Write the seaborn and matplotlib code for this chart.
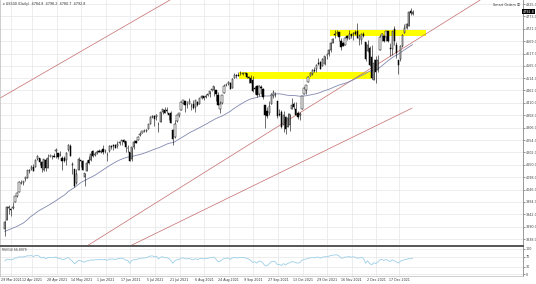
import numpy as np
import pandas as pd
import matplotlib
matplotlib.use("Agg")
import matplotlib.pyplot as plt
import seaborn as sns
from matplotlib.patches import Rectangle
from matplotlib.transforms import blended_transform_factory

sns.set_theme(style="white")
plt.rcParams["font.family"] = ["DejaVu Sans", "Noto Sans CJK SC"]

# ---------------- data ----------------
# closes before the visible window (only used for the 50-day moving average / RSI warm-up)
pre_close = [3799, 3801, 3810, 3795, 3768, 3798, 3852, 3853, 3841, 3855, 3849, 3751, 3788, 3714,
             3774, 3826, 3831, 3872, 3887, 3915, 3911, 3910, 3916, 3934, 3933, 3931, 3914, 3906,
             3876, 3881, 3925, 3829, 3811, 3901, 3870, 3820, 3768, 3842, 3821, 3875, 3898, 3939,
             3943, 3969, 3962, 3974, 3915, 3913, 3940, 3911, 3889]

open_ = [3879, 3917, 3970, 3963, 3968,
         3993, 4020, 4034, 4075, 4074, 4090, 4096, 4124, 4131, 4141, 4140, 4175, 4179, 4160, 4129, 4170, 4138, 4185, 4188, 4185, 4206, 4198,
         4191, 4180, 4177, 4169, 4211, 4229, 4151, 4131, 4075, 4130, 4170, 4165, 4098, 4122, 4169, 4170, 4206, 4192, 4201, 4210, 4204,
         4216, 4207, 4192, 4207, 4229, 4234, 4233, 4228, 4243, 4248, 4255, 4249, 4220, 4204, 4174, 4225, 4249, 4256, 4274, 4285, 4293, 4290,
         4301, 4322, 4350, 4356, 4351, 4321, 4329, 4372, 4381, 4381, 4369, 4367, 4297, 4266, 4332, 4361, 4381, 4409, 4416, 4402, 4404, 4396,
         4407, 4392, 4415, 4405, 4429, 4437, 4436, 4442, 4447, 4464, 4462, 4462, 4441, 4383, 4411, 4450, 4485, 4490, 4494, 4474, 4514, 4529,
         4529, 4535, 4532, 4535, 4536, 4518, 4514, 4506, 4474, 4479, 4447, 4477, 4470, 4403, 4375, 4368, 4406, 4439, 4443, 4419, 4362, 4371,
         4317, 4349, 4310, 4319, 4384, 4406, 4385, 4368, 4359, 4386, 4447, 4463, 4497, 4524, 4532, 4546, 4553, 4579, 4580, 4563, 4573,
         4610, 4614, 4630, 4662, 4699, 4702, 4707, 4670, 4660, 4655, 4690, 4680, 4701, 4700, 4708, 4712, 4679, 4675, 4701, 4664, 4628, 4640,
         4602, 4504, 4589, 4548, 4632, 4690, 4691, 4687, 4710, 4642, 4637, 4719, 4653, 4588, 4594, 4650, 4704, 4726, 4733, 4795, 4784.8]
high = [3919, 3978, 3981, 3969, 3994,
        4020, 4034, 4083, 4086, 4083, 4098, 4129, 4131, 4148, 4152, 4173, 4191, 4180, 4164, 4175, 4179, 4194, 4194, 4193, 4201, 4219, 4199,
        4209, 4187, 4188, 4202, 4238, 4236, 4162, 4134, 4131, 4183, 4172, 4170, 4117, 4172, 4188, 4209, 4213, 4203, 4213, 4218, 4212,
        4234, 4217, 4204, 4234, 4232, 4237, 4237, 4249, 4249, 4255, 4258, 4252, 4233, 4205, 4226, 4255, 4256, 4271, 4287, 4292, 4300, 4302,
        4321, 4355, 4358, 4357, 4362, 4331, 4372, 4386, 4393, 4393, 4369, 4376, 4301, 4336, 4359, 4369, 4415, 4422, 4416, 4416, 4430, 4408,
        4422, 4424, 4416, 4430, 4441, 4439, 4446, 4449, 4461, 4468, 4480, 4462, 4454, 4419, 4444, 4489, 4492, 4502, 4496, 4513, 4537, 4531,
        4539, 4545, 4541, 4540, 4536, 4522, 4529, 4521, 4479, 4485, 4486, 4485, 4471, 4403, 4394, 4417, 4453, 4463, 4457, 4419, 4385, 4382,
        4376, 4355, 4369, 4365, 4429, 4413, 4415, 4374, 4373, 4440, 4475, 4487, 4523, 4540, 4551, 4560, 4572, 4599, 4585, 4597, 4608,
        4620, 4636, 4664, 4684, 4718, 4714, 4708, 4684, 4664, 4688, 4697, 4714, 4701, 4708, 4718, 4744, 4699, 4702, 4706, 4664, 4673, 4647,
        4652, 4595, 4608, 4612, 4694, 4705, 4696, 4713, 4710, 4660, 4712, 4731, 4666, 4588, 4651, 4698, 4740, 4746, 4791, 4808, 4798.2]
low = [3853, 3917, 3943, 3935, 3965,
       3992, 4016, 4034, 4068, 4064, 4082, 4095, 4114, 4127, 4123, 4139, 4170, 4150, 4119, 4126, 4123, 4138, 4182, 4176, 4181, 4177, 4174,
       4188, 4128, 4161, 4148, 4208, 4188, 4111, 4057, 4069, 4130, 4142, 4127, 4062, 4122, 4152, 4168, 4182, 4189, 4197, 4203, 4200,
       4197, 4199, 4167, 4204, 4216, 4211, 4219, 4221, 4233, 4235, 4242, 4203, 4202, 4165, 4168, 4217, 4241, 4256, 4272, 4282, 4287, 4287,
       4300, 4322, 4348, 4315, 4340, 4289, 4329, 4365, 4367, 4366, 4340, 4325, 4233, 4262, 4328, 4351, 4381, 4405, 4372, 4390, 4404, 4380,
       4385, 4373, 4398, 4405, 4425, 4424, 4431, 4437, 4435, 4461, 4438, 4418, 4400, 4368, 4406, 4450, 4482, 4485, 4469, 4471, 4513, 4514,
       4522, 4527, 4529, 4530, 4513, 4494, 4493, 4457, 4447, 4436, 4439, 4448, 4427, 4305, 4347, 4359, 4406, 4430, 4436, 4346, 4354, 4306,
       4288, 4279, 4310, 4290, 4384, 4386, 4360, 4342, 4340, 4386, 4447, 4447, 4497, 4524, 4526, 4538, 4538, 4569, 4551, 4563, 4569,
       4596, 4605, 4624, 4662, 4681, 4694, 4670, 4630, 4649, 4651, 4673, 4680, 4684, 4672, 4693, 4681, 4652, 4659, 4688, 4585, 4625, 4566,
       4510, 4504, 4495, 4541, 4632, 4670, 4665, 4670, 4667, 4606, 4612, 4651, 4600, 4531, 4584, 4645, 4703, 4722, 4733, 4780, 4780.7]
close = [3910, 3974, 3971, 3959, 3973,
         4020, 4030, 4078, 4074, 4080, 4097, 4129, 4128, 4142, 4125, 4170, 4185, 4163, 4135, 4173, 4135, 4180, 4188, 4187, 4184, 4211, 4181,
         4192, 4165, 4168, 4201, 4233, 4189, 4153, 4063, 4113, 4174, 4164, 4128, 4116, 4159, 4156, 4197, 4188, 4196, 4201, 4204, 4208,
         4202, 4208, 4192, 4230, 4226, 4227, 4220, 4239, 4247, 4255, 4247, 4224, 4222, 4166, 4224, 4246, 4242, 4267, 4281, 4291, 4291, 4298,
         4320, 4352, 4355, 4344, 4358, 4320, 4370, 4385, 4369, 4374, 4360, 4327, 4258, 4323, 4359, 4368, 4412, 4422, 4402, 4400, 4419, 4395,
         4387, 4423, 4402, 4429, 4437, 4432, 4436, 4447, 4460, 4468, 4479, 4449, 4400, 4406, 4442, 4480, 4486, 4496, 4470, 4509, 4529, 4523,
         4524, 4537, 4535, 4536, 4520, 4514, 4493, 4458, 4469, 4443, 4480, 4474, 4433, 4358, 4354, 4396, 4449, 4455, 4443, 4353, 4360, 4308,
         4357, 4300, 4345, 4363, 4399, 4391, 4361, 4350, 4364, 4438, 4471, 4487, 4520, 4537, 4549, 4545, 4567, 4575, 4552, 4596, 4605,
         4613, 4631, 4660, 4680, 4697, 4702, 4685, 4646, 4650, 4683, 4683, 4701, 4689, 4704, 4698, 4682, 4690, 4701, 4690, 4595, 4655, 4567,
         4513, 4577, 4538, 4592, 4686, 4701, 4668, 4712, 4669, 4635, 4710, 4669, 4621, 4568, 4649, 4697, 4726, 4742, 4791, 4786, 4792.8]

date_labels = ["29 Mar 2021", "12 Apr 2021", "28 Apr 2021", "14 May 2021", "1 Jun 2021", "17 Jun 2021",
               "5 Jul 2021", "21 Jul 2021", "6 Aug 2021", "24 Aug 2021", "9 Sep 2021", "27 Sep 2021",
               "13 Oct 2021", "29 Oct 2021", "16 Nov 2021", "2 Dec 2021", "17 Dec 2021"]
price_ticks = [4825.0, 4773.0, 4721.0, 4669.0, 4617.0, 4565.0, 4514.0, 4462.0, 4410.0, 4358.0,
               4306.0, 4254.0, 4202.0, 4150.0, 4098.0, 4046.0, 3994.0, 3942.0, 3890.0, 3838.0]
rsi_ticks = [0, 30, 70, 100]
last_price = 4792.8

# support/resistance zones: (start date, end date, low, high)
zone_start = ["2021-09-02", "2021-11-03"]
zone_end = ["2021-12-01", "2022-01-07"]
zone_low = [4510, 4692]
zone_high = [4540, 4717]

# trend lines: two anchor points each (bar offset from first bar, price)
line_x0 = [-2.3, 40.1, 61.1]
line_y0 = [4430, 3809, 3809]
line_x1 = [80.6, 231.9, 198.7]
line_y1 = [4842, 4842, 4388]

title_text = "\u25BE US500 (Daily)  4784.8  4798.2  4780.7  4792.8"
rsi_text = "RSI(14) 66.8979"

# ---------------- derived ----------------
dates = list(pd.bdate_range("2021-03-25", "2021-12-29"))
o = np.array(open_, float); h = np.array(high, float)
l = np.array(low, float); c = np.array(close, float)
n = len(c)
x = np.arange(n)

allc = pd.Series(list(pre_close) + list(close), dtype=float)
ma = allc.rolling(50).mean().to_numpy()[len(pre_close):]
d = allc.diff()
gain = d.clip(lower=0).ewm(alpha=1 / 14, adjust=False).mean()
loss = (-d.clip(upper=0)).ewm(alpha=1 / 14, adjust=False).mean()
rsi = (100 - 100 / (1 + gain / loss)).to_numpy()[len(pre_close):]

def idx_of(s):
    t = pd.Timestamp(s)
    for i, dd in enumerate(dates):
        if dd >= t:
            return i
    last = dates[-1]
    extra = len(pd.bdate_range(last, t)) - 1
    return len(dates) - 1 + extra

# ---------------- figure ----------------
W, H = 536, 284
fig = plt.figure(figsize=(W / 100, H / 100), dpi=100)
fig.patch.set_facecolor("white")

def rect(x0, y0, x1, y1):
    return [x0 / W, 1 - y1 / H, (x1 - x0) / W, (y1 - y0) / H]

ax = fig.add_axes(rect(0, 0, 523, 246))
axr = fig.add_axes(rect(0, 247, 523, 276), sharex=ax)

FS = 2.4
grid_c = "#e6e6e6"

# zones
for s, e, lo, hi in zip(zone_start, zone_end, zone_low, zone_high):
    i0, i1 = idx_of(s), idx_of(e)
    ax.add_patch(Rectangle((i0 - 0.5, lo), i1 - i0, hi - lo, facecolor="#ffff00",
                           edgecolor="none", zorder=2))

# trend lines
for xa, ya, xb, yb in zip(line_x0, line_y0, line_x1, line_y1):
    ax.plot([xa, xb], [ya, yb], color="#c46a6a", lw=0.5, zorder=2.5)

# moving average
sns.lineplot(x=x, y=ma, ax=ax, color="#8088b0", lw=0.6, zorder=2.6)

# candles
up = c >= o
ax.vlines(x, l, h, color="black", lw=0.4, zorder=3)
body = np.maximum(np.abs(c - o), 0.8)
bot = np.minimum(o, c)
ax.bar(x[up], body[up], bottom=bot[up], width=0.62, color="white", edgecolor="black",
       linewidth=0.35, zorder=4)
ax.bar(x[~up], body[~up], bottom=bot[~up], width=0.62, color="black", edgecolor="black",
       linewidth=0.35, zorder=4)

# RSI
sns.lineplot(x=x, y=rsi, ax=axr, color="#9dcfe8", lw=0.6)

# axes ranges (bar pitch ~2.05 px)
ax.set_xlim(-2.29, 252.8)
ax.set_ylim(3809, 4842)
axr.set_ylim(-8, 108)

# ticks
tick_pos = [idx_of(pd.to_datetime(t, format="%d %b %Y")) + 1.3 for t in date_labels]
axr.set_xticks(tick_pos)
axr.set_xticklabels(date_labels)
ax.tick_params(axis="x", labelbottom=False, length=0)
axr.tick_params(axis="x", labelsize=2.3, length=0, pad=1.6, colors="#333333")

ax.yaxis.tick_right()
ax.set_yticks(price_ticks)
ax.set_yticklabels([f"{p:.1f}" for p in price_ticks])
ax.tick_params(axis="y", labelsize=FS, length=1.2, width=0.4, pad=0.8, colors="#444444")

axr.yaxis.tick_right()
axr.set_yticks(rsi_ticks)
axr.set_yticklabels([str(v) for v in rsi_ticks])
axr.tick_params(axis="y", labelsize=FS, length=1.2, width=0.4, pad=0.8, colors="#444444")

for a in (ax, axr):
    a.grid(True, color=grid_c, lw=0.5)
    a.set_axisbelow(True)
    a.set_xlabel(""); a.set_ylabel("")
    for sp in a.spines.values():
        sp.set_visible(False)
    a.spines["right"].set_visible(True)
    a.spines["right"].set_color("#888888")
    a.spines["right"].set_linewidth(0.6)
    a.spines["left"].set_visible(True)
    a.spines["left"].set_color("#bbbbbb")
    a.spines["left"].set_linewidth(0.5)

ax.spines["bottom"].set_visible(True)
ax.spines["bottom"].set_color("#555555")
ax.spines["bottom"].set_linewidth(1.4)
axr.spines["bottom"].set_visible(True)
axr.spines["bottom"].set_color("#bbbbbb")
axr.spines["bottom"].set_linewidth(0.5)

# last price marker
tr = blended_transform_factory(ax.transAxes, ax.transData)
ax.text(1.0, last_price, f"{last_price:.1f}", transform=tr, ha="left", va="center",
        fontsize=FS, color="white", zorder=10, clip_on=False,
        bbox=dict(facecolor="black", edgecolor="none", pad=0.4))

# texts
fig.text(3 / W, 1 - 4.5 / H, title_text, fontsize=FS, va="center", ha="left", color="#333333")
fig.text(520 / W, 1 - 4.5 / H, "Smart Orders \u24D8", fontsize=FS, va="center", ha="right",
         color="#333333")
axr.text(0.003, 0.96, rsi_text, transform=axr.transAxes, fontsize=FS * 0.9, va="top",
         ha="left", color="#333333")

fig.savefig("out.png", dpi=100, facecolor="white")
